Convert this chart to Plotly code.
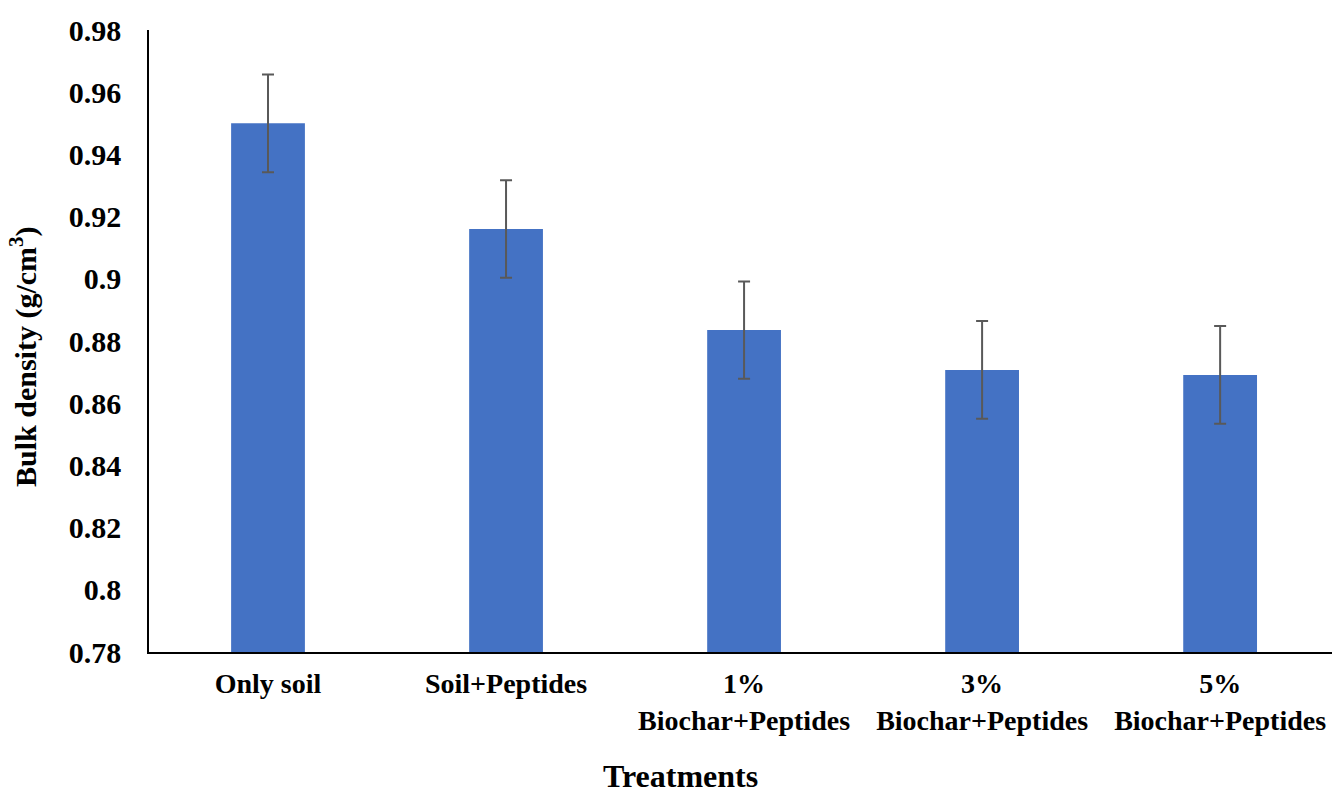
import plotly.graph_objects as go

treatments = ["Only soil", "Soil+Peptides", "1%<br>Biochar+Peptides",
              "3%<br>Biochar+Peptides", "5%<br>Biochar+Peptides"]
bulk_density = [0.950, 0.916, 0.8835, 0.8707, 0.8691]
std_error = [0.0157, 0.0157, 0.0156, 0.0157, 0.0157]

y_ticks = [0.78, 0.80, 0.82, 0.84, 0.86, 0.88, 0.90, 0.92, 0.94, 0.96, 0.98]
y_tick_text = ["0.78", "0.8", "0.82", "0.84", "0.86", "0.88", "0.9",
               "0.92", "0.94", "0.96", "0.98"]

FONT = "Liberation Serif"
W, H = 1332, 793
L, T, B = 149, 30, 141
pw, ph = W - L, H - T - B


def to_paper(px_x, px_y):
    # figure pixel -> paper coords
    return (px_x - L) / pw, (H - B - px_y) / ph


fig = go.Figure(go.Bar(
    x=list(range(len(treatments))),
    y=bulk_density,
    width=0.31,
    marker=dict(color="#4472C4", line=dict(width=0)),
    error_y=dict(type="data", array=std_error, color="#595959",
                 thickness=2, width=6),
))

ytx, yty = to_paper(23, 357)
xtx, xty = to_paper(680, 776)

fig.update_layout(
    width=W, height=H,
    margin=dict(l=L, r=0, t=T, b=B, autoexpand=False),
    plot_bgcolor="white", paper_bgcolor="white",
    font=dict(family=FONT, color="black", weight="bold"),
    showlegend=False,
    xaxis=dict(
        range=[-0.5, 4.47],
        tickvals=list(range(len(treatments))),
        ticktext=treatments,
        tickfont=dict(size=28, family=FONT, weight="bold"),
        showline=True, linecolor="black", linewidth=1.5,
        showgrid=False, ticks="", zeroline=False,
        automargin=False, ticklabelstandoff=6,
    ),
    yaxis=dict(
        range=[0.78, 0.98],
        tickvals=y_ticks,
        ticktext=y_tick_text,
        tickfont=dict(size=30, family=FONT, weight="bold"),
        showline=True, linecolor="black", linewidth=1.5,
        showgrid=False, ticks="", zeroline=False,
        automargin=False, ticklabelstandoff=20,
    ),
    annotations=[
        dict(text="Bulk density (g/cm<sup>3</sup>)", x=ytx, y=yty,
             xanchor="center", yanchor="middle",
             xref="paper", yref="paper", showarrow=False, textangle=-90,
             font=dict(size=30, family=FONT, weight="bold")),
        dict(text="Treatments", x=xtx, y=xty,
             xanchor="center", yanchor="middle",
             xref="paper", yref="paper", showarrow=False,
             font=dict(size=32, family=FONT, weight="bold")),
    ],
)

# drop the default page margin so the figure fills the window exactly
fig.write_html("out.html",
               config={"displayModeBar": False},
               post_script="document.body.style.margin='0';"
                           "document.body.style.overflow='hidden';")
